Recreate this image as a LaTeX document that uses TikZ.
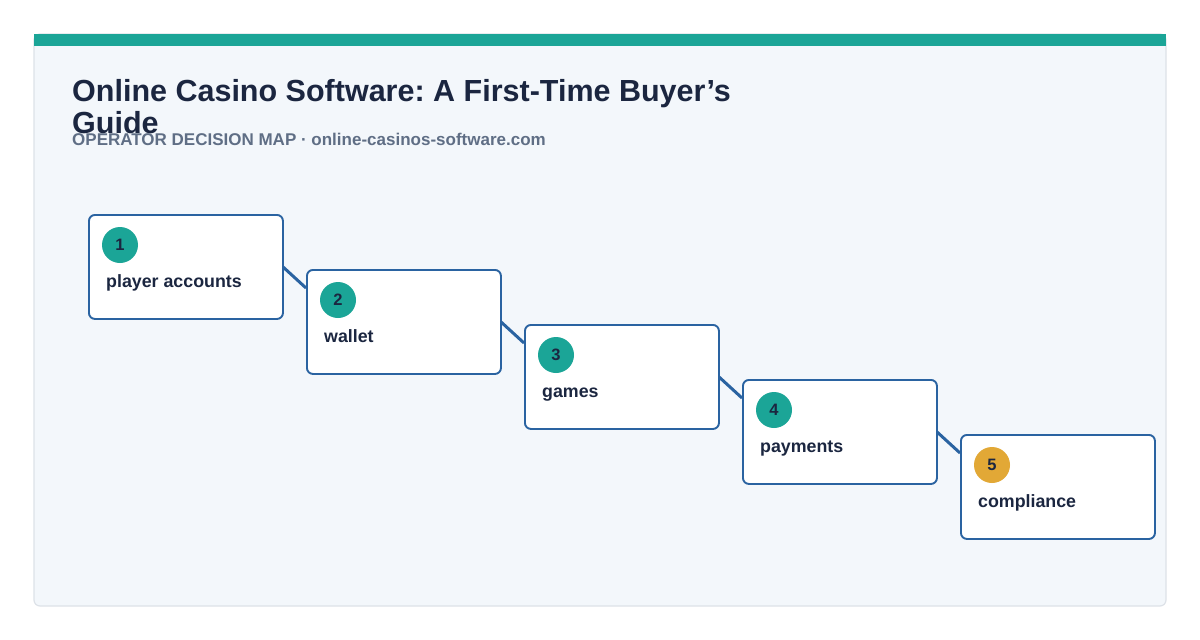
\documentclass[tikz,border=0pt]{standalone}
\usepackage{fontspec}
\setmainfont{Liberation Sans}
\usetikzlibrary{positioning,calc}
\frenchspacing

\definecolor{stepteal}{HTML}{1BA597}
\definecolor{boxblue}{HTML}{2A63A1}
\definecolor{gold}{HTML}{E2A836}
\definecolor{navy}{HTML}{1B2640}
\definecolor{slate}{HTML}{5F6E85}
\definecolor{panelbg}{HTML}{F3F7FB}
\definecolor{panelrim}{HTML}{DDE2E8}

\begin{document}
\begin{tikzpicture}[x=1pt,y=-1pt,
  stepbox/.style={shape=rectangle,rounded corners=6pt,draw=boxblue,line width=1.9pt,fill=white,minimum width=194pt,minimum height=104pt,anchor=north west,inner sep=0pt},
  badge/.style={shape=circle,fill=#1,minimum size=36pt,inner sep=0pt,font=\bfseries\fontsize{16.5}{16}\selectfont,text=navy},
  steplabel/.style={anchor=base west,inner sep=0pt,font=\bfseries\fontsize{17.8}{18}\selectfont,text=navy},
  link/.style={draw=boxblue,line width=3pt},]
  \useasboundingbox (0,0) rectangle (1200,640);
  % panel and top bar
  \fill[white] (0,0) rectangle (1200,640);
  \draw[panelrim,fill=panelbg,line width=1.2pt,rounded corners=6pt] (34,34) rectangle (1166,606);
  \fill[stepteal] (34,34) rectangle (1166,46);
  % heading
  \node[anchor=base west,inner sep=0pt,align=left,text=navy,font=\bfseries\fontsize{30.5}{32}\selectfont] (title) at (72,133) {Online Casino Software: A First-Time Buyer’s\\Guide};
  \node[anchor=base west,inner sep=0pt,text=slate,font=\bfseries\fontsize{17}{17}\selectfont] (subtitle) at (72,145) {OPERATOR DECISION MAP · online-casinos-software.com};
  % connectors
  \foreach \i [evaluate=\i as \j using int(\i+1)] in {1,...,4}{
    \coordinate (e\i) at ({88+218*\i},{214+55*\i+19});
    \coordinate (w\i) at ({88+218*(\i-1)+194},{214+55*(\i-1)+52});
    \draw[link] (w\i) -- (e\i);
  }
  % steps
  \foreach \i/\txt/\col in {1/player accounts/stepteal,2/wallet/stepteal,3/games/stepteal,4/payments/stepteal,5/compliance/gold}{
    \node[stepbox] (s\i) at ({88+218*(\i-1)},{214+55*(\i-1)}) {};
    \node[badge=\col] (c\i) at ($(s\i.north west)+(32,31)$) {\i};
    \node[steplabel] (l\i) at ($(s\i.north west)+(18,73)$) {\txt};
  }
\end{tikzpicture}
\end{document}
